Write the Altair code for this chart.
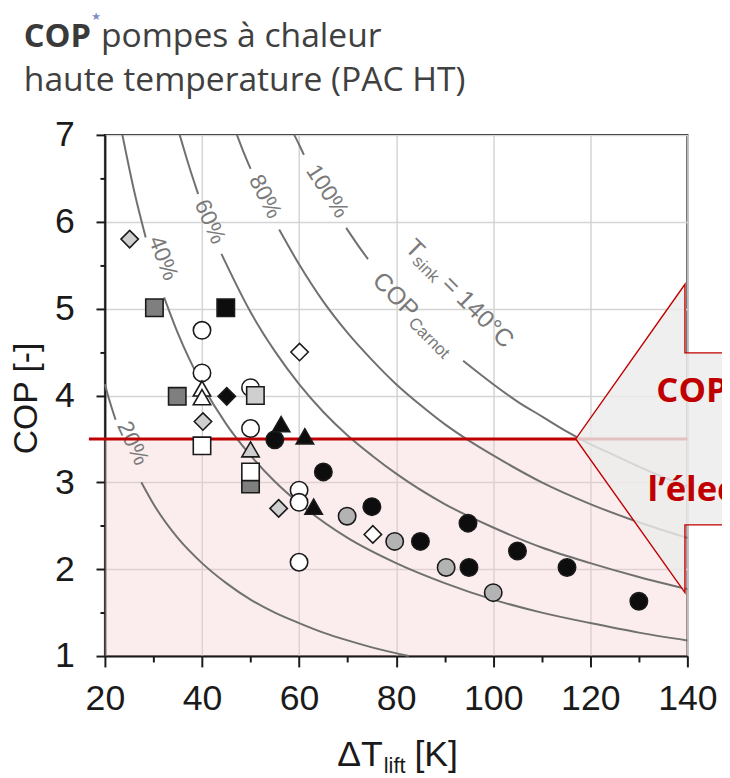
import altair as alt
import pandas as pd

# ---------------- data ----------------
x_ticks = [20, 30, 40, 50, 60, 70, 80, 90, 100, 110, 120, 130, 140]
y_ticks = [1, 1.5, 2, 2.5, 3, 3.5, 4, 4.5, 5, 5.5, 6, 6.5, 7]

# iso-efficiency curves (fraction of COP Carnot, T_sink = 140 °C), split where labels interrupt them
curve_names = ["100%", "80%", "60%", "40%", "20%"]
curve_x = {
    "100%": [[59.0, 60.0, 61.0], [69.7, 72.0, 74.2],
             [93.8, 100, 105, 110, 115, 120, 125, 130, 135, 140]],
    "80%": [[47.2, 48.5, 50.0],
            [55.9, 60, 65, 70, 75, 80, 85, 90, 95, 100, 110, 120, 130, 140]],
    "60%": [[35.4, 37.0, 39.2],
            [44.0, 50, 55, 60, 65, 70, 75, 80, 90, 100, 110, 120, 130, 140]],
    "40%": [[23.6, 26.0, 28.4],
            [32.2, 35, 40, 45, 50, 55, 60, 70, 80, 90, 100, 110, 120, 130, 140]],
    "20%": [[20.0, 21.0, 22.2],
            [27.5, 30, 35, 40, 45, 50, 55, 60, 65, 70, 75, 82.6]],
}
curve_y = {
    "100%": [[7.0, 6.89, 6.77], [5.93, 5.74, 5.57],
             [4.40, 4.13, 3.93, 3.76, 3.59, 3.44, 3.31, 3.18, 3.06, 2.95]],
    "80%": [[7.0, 6.81, 6.61],
            [5.91, 5.51, 5.08, 4.72, 4.41, 4.13, 3.89, 3.67, 3.48, 3.31, 3.00, 2.75, 2.54, 2.36]],
    "60%": [[7.0, 6.70, 6.32],
            [5.63, 4.96, 4.51, 4.13, 3.81, 3.54, 3.31, 3.10, 2.75, 2.48, 2.25, 2.07, 1.91, 1.77]],
    "40%": [[7.0, 6.36, 5.82],
            [5.13, 4.72, 4.13, 3.67, 3.31, 3.01, 2.76, 2.36, 2.07, 1.84, 1.65, 1.50, 1.38, 1.27, 1.18]],
    "20%": [[4.13, 3.93, 3.72],
            [3.00, 2.75, 2.36, 2.07, 1.84, 1.65, 1.50, 1.38, 1.27, 1.18, 1.10, 1.00]],
}

# curve labels
label_text = ["100%", "80%", "60%", "40%", "20%"]
label_x = [65.8, 53.0, 41.6, 32.0, 25.7]
label_y = [6.35, 6.29, 6.00, 5.58, 3.45]
label_angle = [57, 63, 66, 69, 65]

# heat pump data points
pt_x = [25.1, 30.2, 44.9, 40.0, 60.1, 40.0, 40.0, 40.0, 34.9, 45.1, 50.0, 51.0, 40.2,
        50.0, 55.0, 56.3, 61.2, 40.0, 50.0, 50.0, 50.0, 65.0, 60.0, 60.0, 55.8, 63.0,
        69.9, 75.0, 75.2, 79.7, 85.0, 94.8, 90.3, 95.0, 105.0, 115.2, 100.0, 130.0, 60.0]
pt_y = [5.80, 5.01, 5.01, 4.75, 4.50, 4.26, 4.08, 3.98, 3.99, 3.99, 4.09, 4.00, 3.70,
        3.62, 3.49, 3.67, 3.53, 3.42, 3.38, 2.98, 3.12, 3.12, 2.91, 2.77, 2.70, 2.72,
        2.61, 2.72, 2.40, 2.32, 2.32, 2.53, 2.02, 2.02, 2.21, 2.02, 1.73, 1.63, 2.08]
pt_marker = ["diamond", "square", "square", "circle", "diamond", "circle", "triangle", "triangle",
             "square", "diamond", "circle", "square", "diamond", "circle", "circle", "triangle",
             "triangle", "square", "triangle", "square", "square", "circle", "circle", "circle",
             "diamond", "triangle", "circle", "circle", "diamond", "circle", "circle", "circle",
             "circle", "circle", "circle", "circle", "circle", "circle", "circle"]
pt_tone = ["light", "dark", "black", "open", "open", "open", "open", "open",
           "dark", "black", "open", "light", "light", "open", "black", "black",
           "black", "open", "light", "dark", "open", "black", "open", "open",
           "light", "black", "gray", "black", "open", "gray", "black", "black",
           "gray", "black", "black", "black", "gray", "black", "open"]

# threshold COP and shaded zone
threshold = 3.5
threshold_x = [16.7, 140]
zone_x = [20, 140]
zone_y = [1, 3.5]

# callout arrow (data units)
arrow_area_x = [117.0, 139.5, 139.51, 150.0]
arrow_area_top = [3.5, 5.28, 4.49, 4.49]
arrow_area_bot = [3.5, 1.73, 2.51, 2.51]
arrow_line_x = [150.0, 139.5, 139.5, 117.0, 139.5, 139.5, 150.0]
arrow_line_y = [4.49, 4.49, 5.28, 3.5, 1.73, 2.51, 2.51]

# ---------------- tables ----------------
rows = []
for name in curve_names:
    for s, (xs, ys) in enumerate(zip(curve_x[name], curve_y[name])):
        for i, (a, b) in enumerate(zip(xs, ys)):
            rows.append({"x": a, "y": b, "seg": f"{name}-{s}", "i": i})
curves_df = pd.DataFrame(rows)

pts_df = pd.DataFrame({"x": pt_x, "y": pt_y, "marker": pt_marker, "tone": pt_tone,
                       "k": list(range(len(pt_x)))})
zone_df = pd.DataFrame({"x": [zone_x[0]], "x2": [zone_x[1]], "y": [zone_y[0]], "y2": [zone_y[1]]})
thr_df = pd.DataFrame({"x": [threshold_x[0]], "x2": [threshold_x[1]], "y": [threshold]})
arr_df = pd.DataFrame({"x": arrow_area_x, "y": arrow_area_top, "y2": arrow_area_bot})
arr_line_df = pd.DataFrame({"x": arrow_line_x, "y": arrow_line_y, "k": list(range(len(arrow_line_x)))})

XS = alt.Scale(domain=[20, 140], nice=False, zero=False)
YS = alt.Scale(domain=[1, 7], nice=False, zero=False)

INK = "#1a1a1a"
RED = "#c00000"

x_axis = alt.Axis(
    values=x_ticks, title=None,
    labelExpr="datum.value % 20 == 0 ? format(datum.value, 'd') : ''",
    labelFont="Liberation Sans", labelFontSize=36, labelColor=INK, labelPadding=15,
    labelOverlap=False, labelFlush=False, labelBound=False,
    tickColor=INK, tickWidth=2,
    tickSize={"condition": {"test": "datum.value % 20 == 0", "value": 11}, "value": 6},
    domainColor=INK, domainWidth=2,
    grid=True, gridColor="#d4d4d4", gridWidth=1.5,
    gridOpacity={"condition": {"test": "datum.value % 20 == 0", "value": 1}, "value": 0},
)
y_axis = alt.Axis(
    values=y_ticks, title="COP [-]",
    labelExpr="datum.value % 1 == 0 ? format(datum.value, 'd') : ''",
    labelFont="Liberation Sans", labelFontSize=36, labelColor=INK, labelPadding=22,
    labelOverlap=False, labelFlush=False, labelBound=False,
    tickColor=INK, tickWidth=2,
    tickSize={"condition": {"test": "datum.value % 1 == 0", "value": 9}, "value": 5},
    domainColor=INK, domainWidth=2,
    grid=True, gridColor="#d4d4d4", gridWidth=1.5,
    gridOpacity={"condition": {"test": "datum.value % 1 == 0", "value": 1}, "value": 0},
    titleFont="Liberation Sans", titleFontSize=34, titleFontWeight="normal", titleColor=INK,
    titleX=-79, titleY=266, titleAngle=270, titleAlign="center", titleBaseline="middle",
)


def X(field="x"):
    return alt.X(f"{field}:Q", scale=XS, axis=x_axis)


def Y(field="y"):
    return alt.Y(f"{field}:Q", scale=YS, axis=y_axis)


zone = alt.Chart(zone_df).mark_rect(fill="#f4cccc", opacity=0.35).encode(
    x=X(), x2="x2:Q", y=Y(), y2="y2:Q",
)

curves = alt.Chart(curves_df).mark_line(color="#707070", strokeWidth=2, interpolate="monotone").encode(
    x=X(), y=Y(), detail="seg:N", order="i:Q",
)

layers = [zone, curves]

for t, lx, ly, ang in zip(label_text, label_x, label_y, label_angle):
    layers.append(
        alt.Chart(pd.DataFrame({"x": [lx], "y": [ly], "t": [t]})).mark_text(
            angle=ang, font="Liberation Sans", fontSize=23, color="#7a7a7a",
            align="center", baseline="middle",
        ).encode(x=X(), y=Y(), text="t:N")
    )


# T_sink = 140°C  and  COP_Carnot labels (pieces with subscripts)
def rot_piece(x, y, text, size, dx, dy, angle=45):
    return alt.Chart(pd.DataFrame({"x": [x], "y": [y], "t": [text]})).mark_text(
        angle=angle, font="Liberation Sans", fontSize=size, color="#7a7a7a",
        align="left", baseline="middle", dx=dx, dy=dy,
    ).encode(x=X(), y=Y(), text="t:N")


layers += [
    rot_piece(82.75, 5.75, "T", 25, 0, 0),
    rot_piece(82.75, 5.75, "sink", 17, 15, 7),
    rot_piece(82.75, 5.75, "= 140°C", 25, 52, 0),
    rot_piece(76.0, 5.37, "COP", 25, 0, 0),
    rot_piece(76.0, 5.37, "Carnot", 17, 56, 7),
]

thr = alt.Chart(thr_df).mark_rule(color=RED, strokeWidth=3).encode(
    x=X(), x2="x2:Q", y=Y(),
)

arrow_fill = alt.Chart(arr_df).mark_area(color="#ececec", opacity=0.82).encode(
    x=X(), y=Y(), y2="y2:Q",
)
arrow_edge = alt.Chart(arr_line_df).mark_line(color=RED, strokeWidth=1.4).encode(
    x=X(), y=Y(), order="k:Q",
)

points = alt.Chart(pts_df).mark_point(
    filled=True, stroke=INK, strokeWidth=1.6, opacity=1, fillOpacity=1, size=310,
).encode(
    x=X(), y=Y(),
    shape=alt.Shape("marker:N", scale=alt.Scale(domain=["circle", "square", "diamond", "triangle"],
                                                 range=["circle", "square", "diamond", "triangle-up"]),
                    legend=None),
    fill=alt.Fill("tone:N", scale=alt.Scale(domain=["open", "light", "gray", "dark", "black"],
                                            range=["#ffffff", "#cfcfcf", "#b3b3b3", "#7f7f7f", "#0d0d0d"]),
                  legend=None),
    order="k:Q",
)


def data_text(x, y, text, size, color, weight="normal", font="Open Sans"):
    return alt.Chart(pd.DataFrame({"x": [x], "y": [y], "t": [text]})).mark_text(
        font=font, fontSize=size, fontWeight=weight, color=color, align="left", baseline="alphabetic",
    ).encode(x=X(), y=Y(), text="t:N")


callout = [
    data_text(133.6, 3.93, "COP", 35, RED, "bold"),
    data_text(131.8, 2.79, "l’électricité", 35, RED, "bold"),
]


def px_text(x, y, text, size, color, weight="normal", font="Open Sans", align="left", baseline="alphabetic"):
    return alt.Chart(pd.DataFrame({"t": [text]})).mark_text(
        font=font, fontSize=size, fontWeight=weight, color=color, align=align, baseline=baseline,
    ).encode(x=alt.value(x), y=alt.value(y), text="t:N")


titles = [
    px_text(-82, -89, "COP", 33, "#3a3a3a", "bold"),
    px_text(-9, -119, "★", 11, "#7b8dc4", font="DejaVu Sans", align="center", baseline="middle"),
    px_text(-4, -89, "pompes à chaleur", 34, "#404040"),
    px_text(-82, -44, "haute temperature (PAC HT)", 34, "#404040"),
    px_text(235, 638, "ΔT", 36, INK, font="Liberation Sans"),
    px_text(282, 645, "lift", 22, INK, font="Liberation Sans"),
    px_text(313, 638, "[K]", 36, INK, font="Liberation Sans"),
]

layers += [thr, arrow_fill, arrow_edge, points] + callout + titles

chart = alt.layer(*layers).properties(
    width=589, height=527,
    padding={"left": 98, "top": 124, "right": 35, "bottom": 119},
    autosize=alt.AutoSizeParams(type="none"),
    background="white",
).configure_view(stroke=INK, strokeWidth=2)

chart.save("out.html", embed_options={"renderer": "svg", "actions": False})
